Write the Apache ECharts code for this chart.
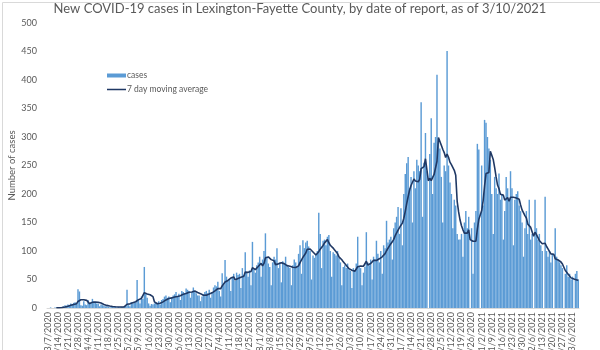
<!DOCTYPE html>
<html>
<head>
<meta charset="utf-8">
<script src="https://cdn.jsdelivr.net/npm/echarts@6/dist/echarts.min.js"></script>
<style>
html,body{margin:0;padding:0;background:#fff;}
#chart{width:600px;height:350px;}
</style>
</head>
<body>
<div id="chart"></div>
<script>
const titleText = 'New COVID-19 cases in Lexington-Fayette County, by date of report, as of 3/10/2021';
const startDate = [2020, 3, 7];
const seriesNames = ['cases', '7 day moving average'];
const yAxisName = 'Number of cases';

// Daily reported cases, week by week (each row starts on a Saturday)
const cases = [
  0,0,1,0,0,1,1,
  1,0,1,2,3,5,4,
  6,5,8,7,9,10,8,
  33,29,5,4,12,6,5,
  14,8,10,16,12,9,8,
  8,3,6,5,4,3,3,
  2,1,2,3,2,2,1,
  2,1,2,2,3,4,32,
  5,3,10,8,9,10,49,
  14,8,20,16,72,25,18,
  8,4,7,6,8,10,9,
  12,6,14,16,20,22,18,
  20,10,18,22,24,28,20,
  25,14,30,28,26,34,32,
  30,18,28,36,30,26,22,
  22,12,20,24,28,30,26,
  32,18,28,36,40,38,46,
  30,20,61,40,84,55,48,
  50,30,55,60,48,62,58,
  60,35,70,58,98,62,55,
  66,40,116,70,62,75,80,
  90,55,85,100,131,88,78,
  72,40,80,90,85,105,70,
  80,45,82,78,90,75,72,
  70,40,75,85,80,72,95,
  110,60,119,105,115,118,108,
  100,50,92,88,95,100,167,
  130,70,118,120,110,125,128,
  100,55,98,95,92,100,88,
  80,40,72,75,70,78,68,
  65,35,70,66,78,125,72,
  70,40,62,72,133,80,75,
  85,50,90,86,118,95,80,
  100,60,110,105,153,115,120,
  125,85,140,150,160,177,130,
  175,110,200,235,254,265,210,
  230,150,240,210,260,250,240,
  361,160,255,307,240,0,270,
  333,200,290,300,409,290,280,
  230,150,250,240,451,250,220,
  200,140,190,180,130,120,120,
  130,90,150,170,140,160,0,
  140,60,150,170,288,278,0,
  250,180,330,325,300,280,260,
  200,130,230,210,200,236,190,
  200,120,170,230,210,190,240,
  210,110,190,200,205,180,170,
  150,90,140,170,130,190,120,
  130,0,190,140,120,130,110,
  100,0,195,100,90,100,80,
  95,0,140,90,85,80,75,
  70,0,60,75,55,60,50,
  55,0,60,65,50
];

// category labels: one per day from the start date
const dates = [];
{
  const d = new Date(startDate[0], startDate[1] - 1, startDate[2]);
  for (let i = 0; i < cases.length; i++) {
    dates.push((d.getMonth() + 1) + '/' + d.getDate() + '/' + d.getFullYear());
    d.setDate(d.getDate() + 1);
  }
}

// trailing 7-day moving average of the cases series
const movingAvg = cases.map((v, i) => {
  if (i < 6) return null;
  let s = 0;
  for (let k = i - 6; k <= i; k++) s += cases[k];
  return +(s / 7).toFixed(2);
});

const chart = echarts.init(document.getElementById('chart'), null, {renderer: 'canvas'});
const font = 'Lato, "Liberation Sans", sans-serif';
chart.setOption({
  animation: false,
  textStyle: {fontFamily: font},
  title: {
    text: titleText,
    left: 'center',
    top: -3,
    textStyle: {fontSize: 13, fontWeight: 'normal', color: '#595959', fontFamily: font}
  },
  graphic: [{
    type: 'rect', left: 0, top: 0,
    shape: {x: 0.5, y: 0.5, width: 599, height: 349},
    style: {fill: 'none', stroke: '#d9d9d9', lineWidth: 1},
    silent: true
  }],
  legend: {
    orient: 'vertical',
    left: 102,
    top: 66,
    itemGap: 5,
    itemWidth: 19,
    itemHeight: 4,
    symbolKeepAspect: true,
    textStyle: {fontSize: 8.5, color: '#595959', fontFamily: font, padding: [0, 0, 0, -4]},
    data: [
      {name: seriesNames[0], icon: 'rect'},
      {name: seriesNames[1], icon: 'path://M0,0 L20,0 L20,1.6 L0,1.6 Z'}
    ]
  },
  grid: {left: 47, right: 21, top: 23, bottom: 42, containLabel: false, outerBoundsMode: 'none'},
  xAxis: {
    type: 'category',
    data: dates,
    boundaryGap: true,
    axisLine: {lineStyle: {color: '#d9d9d9', width: 1}},
    axisTick: {show: false},
    axisLabel: {interval: 6, rotate: 90, fontSize: 9, color: '#595959', margin: 4, fontFamily: font}
  },
  yAxis: {
    type: 'value',
    min: 0, max: 500, interval: 50,
    name: yAxisName,
    nameLocation: 'middle',
    nameGap: 30,
    nameMoveOverlap: false,
    nameTextStyle: {fontSize: 9.5, color: '#595959', fontFamily: font},
    axisLine: {show: false},
    axisTick: {show: false},
    splitLine: {show: false},
    axisLabel: {fontSize: 9, color: '#595959', margin: 10, fontFamily: font}
  },
  series: [
    {
      name: seriesNames[0],
      type: 'bar',
      data: cases,
      barCategoryGap: '0%',
      itemStyle: {color: '#5B9BD5'}
    },
    {
      name: seriesNames[1],
      type: 'line',
      data: movingAvg,
      symbol: 'none',
      showSymbol: false,
      connectNulls: false,
      lineStyle: {color: '#1F3864', width: 1.6},
      itemStyle: {color: '#1F3864'}
    }
  ]
});
</script>
</body>
</html>
